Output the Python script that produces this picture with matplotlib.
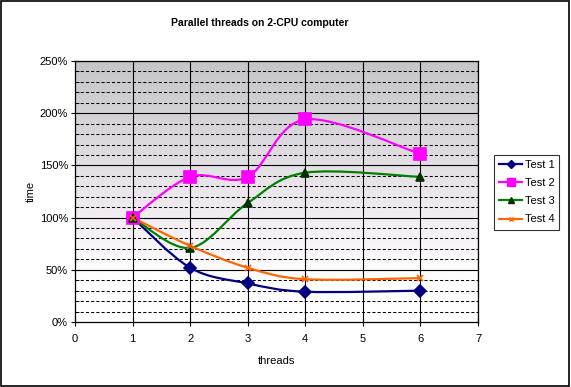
import matplotlib
matplotlib.use("Agg")
import matplotlib.pyplot as plt
import numpy as np
from matplotlib.path import Path
from matplotlib.patches import PathPatch, Rectangle
from matplotlib.lines import Line2D
from matplotlib.ticker import MultipleLocator, FuncFormatter

plt.rcParams['font.family'] = ['Liberation Sans', 'DejaVu Sans']

# datos
threads = [1, 2, 3, 4, 6]
test1 = [100, 52, 37, 29, 30]
test2 = [100, 139, 139, 194, 161]
test3 = [100, 71, 114, 143, 139]
test4 = [100, 73, 52, 41, 42]

series = [
    ("Test 1", test1, "#000080", "D", 6, "#000080"),
    ("Test 2", test2, "#FF00FF", "s", 8, "#FF00FF"),
    ("Test 3", test3, "#008000", "^", 6, "#003000"),
    ("Test 4", test4, "#FF6600", "x", 5, "#FF6600"),
]


def curva_suave(xs, ys):
    # linea suavizada estilo Excel (bezier cubico tipo Catmull-Rom)
    p = np.column_stack([xs, ys]).astype(float)
    n = len(p)
    verts = [p[0]]
    codes = [Path.MOVETO]
    for i in range(n - 1):
        p0 = p[i - 1] if i > 0 else p[i]
        p3 = p[i + 2] if i + 2 < n else p[i + 1]
        c1 = p[i] + (p[i + 1] - p0) / 6.0
        c2 = p[i + 1] - (p3 - p[i]) / 6.0
        verts += [c1, c2, p[i + 1]]
        codes += [Path.CURVE4] * 3
    return Path(verts, codes)


fig = plt.figure(figsize=(5.71, 3.87), dpi=100)
ax = fig.add_axes([75 / 571, 1 - 322 / 387, 403 / 571, 261 / 387])

# fondo degradado (fila 0 = arriba)
t = np.linspace(0, 1, 256)[:, None]
top = np.array([0.77, 0.77, 0.79])
mid = np.array([0.95, 0.93, 0.95])
bot = np.array([1.0, 1.0, 1.0])
grad = np.where(t < 0.6, top + (mid - top) * (t / 0.6), mid + (bot - mid) * ((t - 0.6) / 0.25).clip(0, 1))
grad = grad.reshape(256, 1, 3)
ax.imshow(grad, extent=[0, 7, 0, 250], origin='upper', aspect='auto', zorder=0, interpolation='bilinear')

ax.set_xlim(0, 7)
ax.set_ylim(0, 250)

# rejilla
for yv in range(10, 250, 10):
    if yv % 50 == 0:
        ax.axhline(yv, color='black', lw=0.8, zorder=1)
    else:
        ax.axhline(yv, color='black', lw=0.75, ls=(0, (3, 2)), zorder=1)
for xv in range(1, 8):
    ax.axvline(xv, color='black', lw=0.8, zorder=1)

# series
for nombre, vals, color, marker, ms, fc in series:
    ax.add_patch(PathPatch(curva_suave(threads, vals), fill=False, edgecolor=color, lw=1.6, zorder=3))
    ax.plot(threads, vals, ls='none', marker=marker, markersize=ms, color=color,
            markerfacecolor=fc, markeredgecolor=fc, mew=1.2, zorder=4)

ax.xaxis.set_major_locator(MultipleLocator(1))
ax.yaxis.set_major_locator(MultipleLocator(50))
ax.yaxis.set_minor_locator(MultipleLocator(10))
ax.yaxis.set_major_formatter(FuncFormatter(lambda v, p: "{:d}%".format(int(v))))
ax.tick_params(axis='both', labelsize=8, color='black', width=0.8)
ax.tick_params(axis='y', which='major', direction='inout', length=6, pad=2)
ax.tick_params(axis='y', which='minor', direction='in', length=3)
ax.tick_params(axis='x', direction='inout', length=6, pad=6)
for s in ax.spines.values():
    s.set_linewidth(0.9)
    s.set_color('black')

ax.set_xlabel('threads', fontsize=8, labelpad=8)
ax.set_ylabel('time', fontsize=8, labelpad=3)
fig.text(260 / 571, 1 - 23 / 387, 'Parallel threads on 2-CPU computer', fontsize=7.5,
         fontweight='bold', ha='center', va='center')

# leyenda
handles = [Line2D([], [], color=c, lw=1.6, marker=m, markersize=ms * 0.7,
                  markerfacecolor=fc, markeredgecolor=fc) for _, _, c, m, ms, fc in series]
leg = fig.legend(handles, [s[0] for s in series], loc='center left',
                 bbox_to_anchor=(494 / 571, 1 - 192 / 387), fontsize=8, frameon=True,
                 fancybox=False, edgecolor='black', handlelength=2.1, handletextpad=0.2,
                 labelspacing=0.75, borderpad=0.45, borderaxespad=0)
leg.get_frame().set_linewidth(0.8)

# borde de la figura
fig.patches.append(Rectangle((0.001, 0.002), 0.996, 0.996, transform=fig.transFigure,
                             fill=False, edgecolor='black', lw=1.2))

fig.savefig('out.png', dpi=100)
